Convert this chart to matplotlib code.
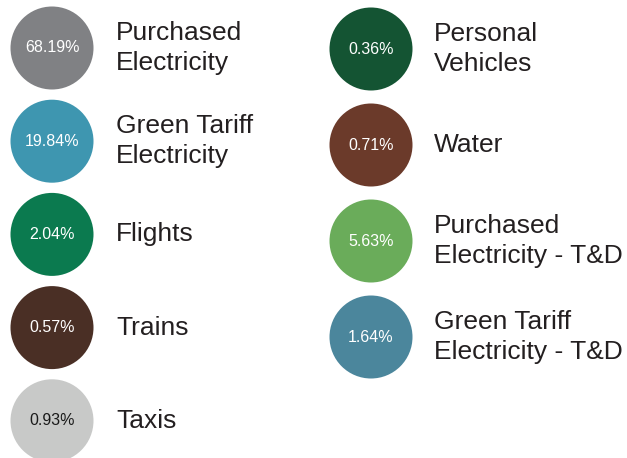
import matplotlib
matplotlib.use("Agg")
import matplotlib.pyplot as plt
from matplotlib.patches import Circle

plt.rcParams['font.family'] = ['Liberation Sans', 'DejaVu Sans']

# datos
etiquetas_izq = ['Purchased\nElectricity', 'Green Tariff\nElectricity', 'Flights', 'Trains', 'Taxis']
valores_izq = [68.19, 19.84, 2.04, 0.57, 0.93]
colores_izq = ['#808184', '#3E96B0', '#0B7A4F', '#4A2F25', '#C8C9C8']
texto_izq = ['white', 'white', 'white', 'white', '#1a1a1a']

etiquetas_der = ['Personal\nVehicles', 'Water', 'Purchased\nElectricity - T&D', 'Green Tariff\nElectricity - T&D']
valores_der = [0.36, 0.71, 5.63, 1.64]
colores_der = ['#145433', '#6B3A2A', '#6AAC5A', '#4B869C']
texto_der = ['white', 'white', 'white', 'white']

W, H = 627, 458
fig = plt.figure(figsize=(W / 100, H / 100), dpi=100)
ax = fig.add_axes([0, 0, 1, 1])
ax.set_xlim(0, W)
ax.set_ylim(H, 0)
ax.set_aspect('equal')
ax.axis('off')

radio = 41.5


def columna(cx, tx, y0, paso, etiquetas, valores, colores, txt_col):
    for i, (et, v, c, tc) in enumerate(zip(etiquetas, valores, colores, txt_col)):
        cy = y0 + i * paso
        ax.add_patch(Circle((cx, cy), radio, color=c, lw=0))
        ax.text(cx, cy, f'{v:.2f}%', color=tc, fontsize=11.5, ha='center', va='center')
        ax.text(tx, cy, et, color='#231f20', fontsize=19, ha='left', va='center',
                linespacing=1.3)


columna(52, 116, 48, 93.2, etiquetas_izq, valores_izq, colores_izq, texto_izq)
columna(371, 434, 49, 96, etiquetas_der, valores_der, colores_der, texto_der)

fig.savefig('out.png', dpi=100)
